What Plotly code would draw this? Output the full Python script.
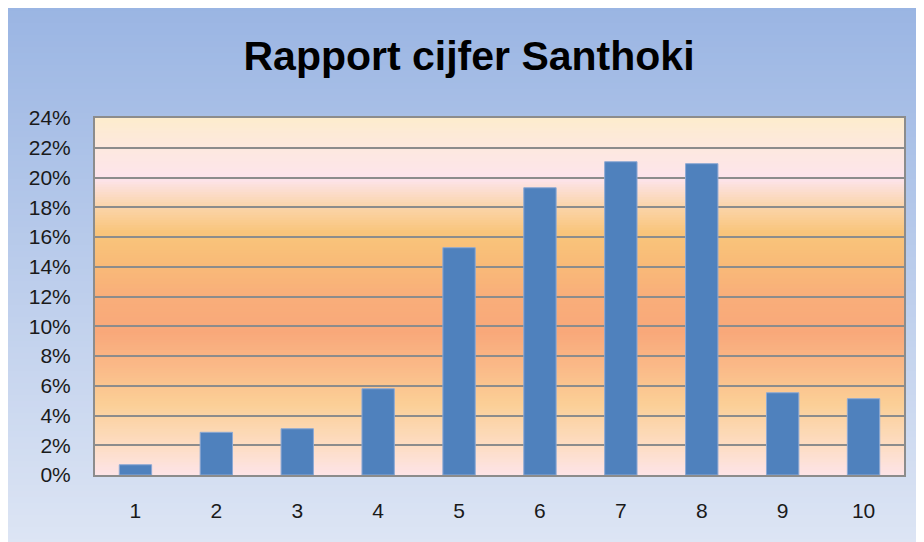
import plotly.graph_objects as go

# ---- data ----
grades = ["1", "2", "3", "4", "5", "6", "7", "8", "9", "10"]
share_pct = [0.69, 2.87, 3.11, 5.80, 15.28, 19.31, 21.06, 20.93, 5.53, 5.13]
title_text = "Rapport cijfer Santhoki"

# ---- geometry (pixels in the screenshot; page body adds an 8px offset) ----
OX, OY = 8, 8
W, H = 924, 542
PLOT_L, PLOT_R, PLOT_T, PLOT_B = 95, 904, 118, 475  # screenshot coords
L = PLOT_L - OX
T = PLOT_T - OY
R = W - (PLOT_R - OX)
B = H - (PLOT_B - OY)
PW, PH = PLOT_R - PLOT_L, PLOT_B - PLOT_T


def px(x):  # screenshot x -> paper
    return (x - PLOT_L) / PW


def py(y):  # screenshot y -> paper
    return (PLOT_B - y) / PH


def lerp(c1, c2, t):
    return tuple(round(a + (b - a) * t) for a, b in zip(c1, c2))


def color_at(stops, t):
    for (t0, c0), (t1, c1) in zip(stops[:-1], stops[1:]):
        if t0 <= t <= t1:
            return lerp(c0, c1, (t - t0) / (t1 - t0) if t1 > t0 else 0)
    return stops[-1][1]


shapes = []

# outer chart background gradient (blue top -> pale bottom)
paper_stops = [(0.0, (154, 181, 227)), (1.0, (221, 229, 244))]
N1 = 90
top, bot = 5, 545
for i in range(N1):
    y0 = top + (bot - top) * i / N1
    y1 = top + (bot - top) * (i + 1) / N1 + 0.8
    c = color_at(paper_stops, (i + 0.5) / N1)
    shapes.append(dict(type="rect", xref="paper", yref="paper", layer="below",
                       x0=px(4), x1=px(940), y0=py(y0), y1=py(y1),
                       fillcolor="rgb(%d,%d,%d)" % c, line=dict(width=0)))
# frame line
shapes.append(dict(type="rect", xref="paper", yref="paper", layer="below",
                   x0=px(4), x1=px(945), y0=py(5), y1=py(570),
                   fillcolor="rgba(0,0,0,0)", line=dict(width=1, color="#8f8f8f")))

# plot area gradient (0 = bottom, 1 = top)
plot_stops = [
    (0.00, (253, 228, 232)),
    (0.08, (253, 221, 196)),
    (0.20, (251, 207, 150)),
    (0.30, (250, 186, 136)),
    (0.40, (249, 168, 122)),
    (0.50, (249, 174, 122)),
    (0.60, (249, 188, 120)),
    (0.68, (249, 197, 123)),
    (0.76, (251, 214, 176)),
    (0.83, (253, 228, 236)),
    (0.91, (253, 232, 224)),
    (1.00, (253, 236, 205)),
]
N2 = 140
for i in range(N2):
    c = color_at(plot_stops, (i + 0.5) / N2)
    shapes.append(dict(type="rect", xref="paper", yref="paper", layer="below",
                       x0=0, x1=1, y0=i / N2, y1=(i + 1) / N2 + 0.003,
                       fillcolor="rgb(%d,%d,%d)" % c, line=dict(width=0)))

fig = go.Figure()
fig.add_trace(go.Bar(
    x=grades,
    y=[v / 100 for v in share_pct],
    marker=dict(color="#4F81BD", line=dict(color="#8DA9D4", width=1)),
    hoverinfo="x+y",
))

font_family = "Liberation Sans, Arial, sans-serif"
fig.update_layout(
    width=W, height=H,
    margin=dict(l=L, r=R, t=T, b=B, autoexpand=False),
    paper_bgcolor="white",
    plot_bgcolor="rgba(0,0,0,0)",
    bargap=0.6,
    showlegend=False,
    shapes=shapes,
    title=dict(text=title_text, x=(469 - OX) / W, xref="container", xanchor="center",
               y=1 - (56 - OY) / H, yref="container", yanchor="middle",
               font=dict(family=font_family, size=41, color="black", weight="bold")),
    font=dict(family=font_family, size=21, color="#1a1a1a"),
    xaxis=dict(showgrid=False, showline=True, linecolor="#8c8c8c", linewidth=2,
               mirror=True, ticks="", ticklabelstandoff=16, automargin=False,
               tickfont=dict(size=21)),
    yaxis=dict(range=[0, 0.24], dtick=0.02, tickformat=".0%", showgrid=True,
               gridcolor="#8c8c8c", gridwidth=2, showline=True, linecolor="#8c8c8c",
               linewidth=2, mirror=True, ticks="", ticklabelstandoff=18,
               automargin=False, zeroline=False, tickfont=dict(size=21)),
)

fig.write_html("out.html")
